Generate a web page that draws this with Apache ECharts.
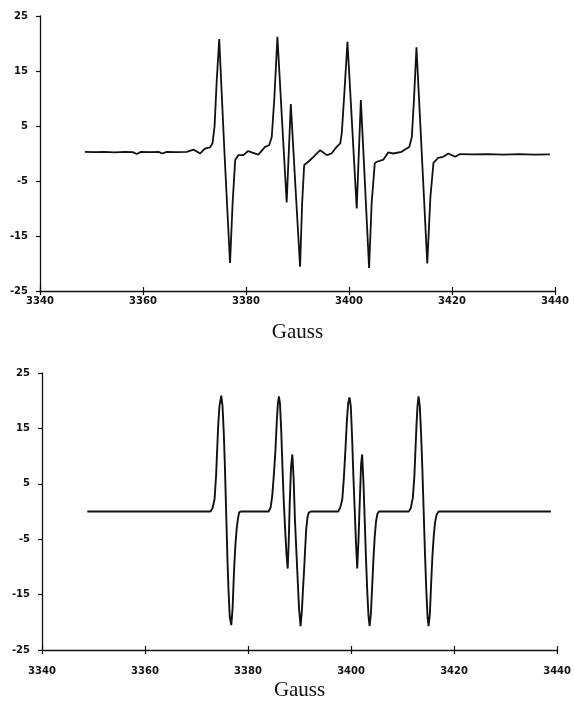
<!DOCTYPE html>
<html>
<head>
<meta charset="utf-8">
<title>EPR spectra</title>
<script src="https://cdn.jsdelivr.net/npm/echarts@6/dist/echarts.min.js"></script>
<style>
  html, body { margin: 0; padding: 0; background: #fff; }
  #chart { width: 574px; height: 702px; }
</style>
</head>
<body>
<div id="chart"></div>
<script>
// measured spectrum (upper panel)
const topField = [
  3348.7, 3350.5, 3352.5, 3354.5, 3356.5, 3358.0, 3358.8, 3359.6, 3361.5, 3363.0,
  3363.8, 3364.6, 3366.5, 3368.5, 3369.8, 3371.1, 3372.0, 3373.0, 3373.5, 3373.9,
  3374.3, 3374.8, 3375.8, 3376.9, 3377.4, 3377.9, 3378.5, 3379.5, 3380.4, 3381.1,
  3382.4, 3383.7, 3384.5, 3385.0, 3385.5, 3386.1, 3387.0, 3387.9, 3388.7, 3389.6,
  3390.5, 3390.9, 3391.3, 3392.1, 3393.1, 3394.4, 3395.7, 3396.6, 3397.6, 3398.3,
  3398.6, 3399.1, 3399.7, 3401.5, 3402.3, 3403.9, 3404.4, 3405.0, 3405.4, 3406.7,
  3407.6, 3408.6, 3410.2, 3411.2, 3411.7, 3412.2, 3412.6, 3413.1, 3415.2, 3415.8,
  3416.4, 3417.3, 3418.3, 3419.3, 3419.6, 3420.6, 3421.6, 3424.0, 3427.0, 3430.0,
  3433.0, 3436.0, 3439.0
];
const topSignal = [
  0.3, 0.25, 0.3, 0.2, 0.3, 0.25, -0.1, 0.3, 0.25, 0.3,
  0.0, 0.3, 0.25, 0.3, 0.7, 0.0, 0.9, 1.1, 1.85, 5,
  13, 20.8, 0.5, -19.9, -9, -1.2, -0.3, -0.3, 0.45, 0.2,
  -0.2, 1.2, 1.5, 3.0, 10, 21.2, 6, -8.9, 9.0, -6,
  -20.6, -9, -2.1, -1.5, -0.6, 0.6, -0.3, 0.0, 1.2, 1.85,
  3.7, 11, 20.3, -10, 9.7, -20.8, -9, -1.8, -1.5, -1.1,
  0.2, 0.0, 0.3, 0.9, 1.2, 3.0, 9.5, 19.3, -20, -8,
  -1.7, -0.8, -0.6, 0.0, 0.3, -0.6, -0.1, -0.15, -0.1, -0.2,
  -0.1, -0.2, -0.15
];

// simulated spectrum (lower panel)
const simField = [
  3348.8, 3372.7, 3373.1, 3373.5, 3373.8, 3374.0, 3374.2, 3374.45, 3374.8, 3375.05,
  3375.3, 3375.5, 3375.75, 3376.0, 3376.2, 3376.45, 3376.75, 3377.0, 3377.3, 3377.55,
  3377.8, 3378.05, 3378.3, 3378.7,
  3384.0, 3384.4, 3384.7, 3385.0, 3385.3, 3385.6, 3385.8, 3386.0, 3386.2, 3386.45,
  3386.7, 3386.95, 3387.2, 3387.45, 3387.7, 3387.9, 3388.1, 3388.35, 3388.6, 3388.85,
  3389.1, 3389.35, 3389.6, 3389.9, 3390.2, 3390.45, 3390.7, 3390.9, 3391.1, 3391.3,
  3391.55, 3391.8, 3392.2,
  3397.5, 3397.9, 3398.3, 3398.6, 3398.9, 3399.2, 3399.45, 3399.7, 3399.95, 3400.2,
  3400.45, 3400.7, 3400.95, 3401.2, 3401.45, 3401.7, 3401.95, 3402.15, 3402.4, 3402.65,
  3402.9, 3403.15, 3403.4, 3403.6, 3403.85, 3404.1, 3404.35, 3404.6, 3404.85, 3405.1,
  3405.4,
  3411.2, 3411.6, 3412.0, 3412.3, 3412.5, 3412.7, 3412.9, 3413.1, 3413.35, 3413.6,
  3413.85, 3414.1, 3414.35, 3414.6, 3414.85, 3415.05, 3415.3, 3415.55, 3415.8, 3416.05,
  3416.3, 3416.6, 3417.0, 3438.8
];
const simSignal = [
  0, 0, 0.6, 2.2, 6.5, 11, 15.4, 19, 20.9, 19,
  14, 8.5, 0, -8.5, -14, -19, -20.5, -17.5, -10.3, -6,
  -3.1, -1.2, -0.1, 0,
  0, 0.8, 2.8, 6.5, 10.7, 16.6, 19.5, 20.8, 19.5, 14.5,
  7.6, 1.5, -3.1, -7.5, -10.3, -5.5, 1.7, 8, 10.3, 6,
  -1.3, -6.5, -11.5, -17.5, -20.7, -18, -13.5, -10.3, -6.5, -3.1,
  -1.0, -0.2, 0,
  0, 0.7, 2.2, 6, 11, 16.5, 19.6, 20.6, 19, 13.5,
  6.5, 0.5, -5.5, -10.3, -5, 2, 8.5, 10.3, 5.5, -1.5,
  -8.5, -14.5, -19, -20.7, -18.5, -13.5, -8.5, -4.5, -1.8, -0.5,
  0,
  0, 0.6, 2.5, 6.5, 11, 15.5, 19, 20.8, 19, 14,
  7.5, 0, -7.5, -14, -19, -20.7, -18.5, -13, -8, -4.5,
  -2, -0.6, 0, 0
];

const yTicks = [-25, -15, -5, 5, 15, 25];
const xName = 'Gauss';

const chart = echarts.init(document.getElementById('chart'));

function pairs(xs, ys) {
  return xs.map((x, i) => [x, ys[i]]);
}

const ink = '#111';
const labelFont = { fontFamily: 'DejaVu Sans', fontSize: 10, fontWeight: 'bold', color: ink };

function xMain(gridIndex, margin, nameGap) {
  return {
    type: 'value', gridIndex: gridIndex, position: 'bottom',
    min: 3340, max: 3440, interval: 20,
    name: xName, nameLocation: 'middle', nameGap: nameGap,
    nameTextStyle: { fontFamily: 'Liberation Serif', fontSize: 21, color: ink },
    axisLine: { onZero: false, lineStyle: { color: ink, width: 1.3 } },
    axisTick: { length: 4, lineStyle: { color: ink, width: 1.2 } },
    axisLabel: Object.assign({ margin: margin, formatter: v => String(v) }, labelFont),
    splitLine: { show: false }
  };
}
function xInner(gridIndex) {
  // ticks poking up into the plot, like the original crossing ticks
  return {
    type: 'value', gridIndex: gridIndex, position: 'bottom',
    min: 3340, max: 3440, interval: 20,
    axisLine: { show: false, onZero: false },
    axisTick: { inside: true, length: 4, lineStyle: { color: ink, width: 1.2 } },
    axisLabel: { show: false },
    splitLine: { show: false }
  };
}
function yMain(gridIndex) {
  return {
    type: 'value', gridIndex: gridIndex,
    min: -25, max: 25,
    axisLine: { show: true, onZero: false, lineStyle: { color: ink, width: 1.3 } },
    axisTick: { show: true, length: 4, customValues: yTicks, lineStyle: { color: ink, width: 1.2 } },
    axisLabel: Object.assign({ margin: 12, customValues: yTicks }, labelFont),
    splitLine: { show: false }
  };
}

const option = {
  backgroundColor: '#fff',
  animation: false,
  grid: [
    { left: 40, top: 16, width: 515, height: 275 },
    { left: 42, top: 373, width: 517, height: 279 }
  ],
  xAxis: [xMain(0, 5, 31), xInner(0), xMain(1, 16, 30), xInner(1)],
  yAxis: [yMain(0), yMain(1)],
  series: [
    {
      type: 'line', xAxisIndex: 0, yAxisIndex: 0,
      data: pairs(topField, topSignal),
      showSymbol: false,
      lineStyle: { color: ink, width: 1.8 }
    },
    {
      type: 'line', xAxisIndex: 2, yAxisIndex: 1,
      data: pairs(simField, simSignal),
      showSymbol: false,
      lineStyle: { color: ink, width: 1.9 }
    }
  ]
};
chart.setOption(option);
</script>
</body>
</html>
